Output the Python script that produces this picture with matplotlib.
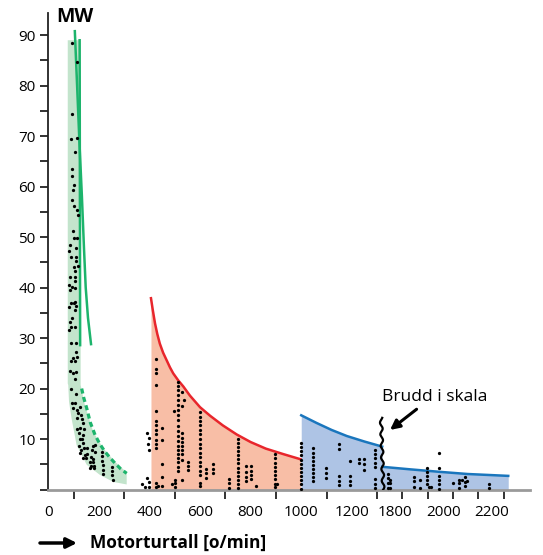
"""Motoreffekt mot turtall: tre motorgrupper med brudd i x-skala."""

import numpy as np
import matplotlib
matplotlib.use("Agg")
import matplotlib.pyplot as plt

plt.rcParams['font.family'] = ['Open Sans', 'DejaVu Sans']

# axis break: rpm values above BREAK_HI are shifted left on the axis
BREAK_LO = 1320
BREAK_HI = 1748


def axis_pos(rpm):
    rpm = np.asarray(rpm, dtype=float)
    return np.where(rpm <= BREAK_LO, rpm, 1370 + (rpm - 1800) * 0.96)


# --- green group (slow-speed engines) ---
green_band_rpm = [77, 77, 79, 82, 92, 112, 152, 204, 257, 310, 310, 264, 217, 178, 145, 128, 128]
green_band_mw = [89, 21, 20.7, 17.4, 14.1, 8.8, 4.9, 2.9, 1.5, 1.0, 3.4, 5.5, 8.2, 11.4, 16.7, 20.7, 89]
green_diag_rpm = [105, 114, 123, 133, 141, 148, 157, 169]
green_diag_mw = [90.8, 80, 69, 58, 48, 40, 34, 28.8]
green_vert_rpm = [124, 126]
green_vert_mw = [89, 28.6]
green_dash_rpm = [132, 140, 152, 166, 185, 204, 224, 244, 264, 286, 310]
green_dash_mw = [20, 18.2, 16.1, 13.3, 10.8, 9.0, 7.5, 6.3, 5.2, 4.1, 3.2]

green_dot_rpm = [92, 112, 95, 90, 112, 105, 95, 95, 103, 96, 95, 102, 115, 116, 96, 102, 115, 87,
                 110, 82, 91, 108, 108, 102, 116, 107, 85, 107, 107, 80, 92, 107, 85,
                 90, 102, 83, 106, 108, 106, 94, 86, 107, 88, 82, 88, 108, 109, 99, 112, 88,
                 107, 86, 96, 111, 106, 88,
                 110, 92, 106, 99, 112, 125, 119, 128, 112, 132, 138, 112, 125, 141, 123, 138,
                 125, 132, 138, 123, 128, 141, 152, 125, 145, 154, 136, 149, 175, 185, 172, 185,
                 168, 178, 165, 178, 168, 181, 165, 181, 211, 211, 211, 215, 215, 217, 250, 250,
                 250, 255]
green_dot_mw = [88.4, 84.6, 74.4, 69.5, 69.7, 66.8, 63.5, 62.1, 60.3, 59.3, 57.3, 56.1, 55.3, 54.4,
                51.2, 49.9, 49.9, 48.4, 47.9, 47.2, 46.0, 46.1, 45.2, 44.0, 44.3, 43.3, 42.1, 42.0,
                41.3, 40.6, 40.1, 40.0, 39.5,
                36.9, 37.0, 36.2, 37.2, 36.3, 35.5, 33.9, 33.1, 32.1, 32.1, 31.6, 29.1, 29.1, 27.3,
                26.1, 26.2, 25.5, 25.5, 23.5, 23.0, 23.3, 21.9, 20.0,
                19.0, 17.1, 17.1, 16.2, 15.7, 16.4, 15.1, 14.8, 14.1, 14.0, 13.1, 12.0, 12.2, 12.0,
                11.1, 10.8, 10.1, 10.0, 9.3, 8.7, 7.8, 8.2, 8.3, 7.2, 6.8, 7.0, 6.3, 6.3, 8.7, 8.9,
                7.8, 7.5, 6.5, 6.0, 5.5, 5.4, 4.7, 4.7, 4.3, 4.3, 7.5, 6.7, 5.6, 4.9, 3.9, 3.0,
                4.5, 3.7, 2.9, 1.9]

# --- red group (medium-speed engines) ---
red_rpm = [406, 413, 422, 431, 441, 454, 468, 481, 494, 514, 534, 560, 600, 640, 690,
           745, 800, 860, 930, 997]
red_mw = [37.9, 35.6, 32.9, 30.8, 28.9, 27.1, 25.6, 24.2, 23.0, 21.6, 20.4, 18.6, 16.3,
          14.6, 12.7, 10.9, 9.4, 8.1, 7.0, 6.0]

# --- blue group (high-speed engines), split by the axis break ---
blue_pre_rpm = [1000, 1060, 1120, 1180, 1250, 1320]
blue_pre_mw = [14.7, 13.2, 11.8, 10.6, 9.5, 8.5]
blue_post_rpm = [1748, 1862, 1985, 2100, 2200, 2267]
blue_post_mw = [4.5, 4.0, 3.5, 3.07, 2.85, 2.7]

# dots in columns (rpm, list of MW)
col_rpm = [389, 398, 395, 399, 372, 391, 382, 399, 398, 435, 501, 501, 488, 501, 527, 538, 498,
           426, 451, 513, 530, 551, 601, 623, 652, 713, 751, 780, 802, 822, 896, 905,
           1000, 1046, 1098, 1148, 1194, 1229, 1248, 1291,
           1770, 1782, 1878, 1903, 1931, 1940, 1950, 1981, 2038, 2065, 2077, 2089, 2096, 2188]
col_mw = [[11.1], [10.3], [9.1], [7.8], [1.1], [2.2], [0.4], [0.55], [1.5], [0.7],
          [1.9], [1.2], [1.1], [0.55], [1.9], [17.7], [15.6],
          [25.8, 23.8, 23.0, 20.8, 15.6, 13.6, 12.8, 11.8, 10.9, 9.9, 9.1, 8.3, 1.2, 0.55],
          [12.1, 9.9, 5.0, 2.4, 0.7],
          [21.3, 20.5, 19.7, 18.7, 17.7, 16.7, 15.7, 14.7, 13.8, 12.6, 11.6, 10.6, 9.6, 8.7,
           7.8, 7.0, 6.2, 5.4, 4.5, 3.7],
          [19.4, 16.5, 11.1, 10.3, 9.5, 8.7, 7.8, 7.0, 5.8],
          [5.5, 4.6, 3.8],
          [15.3, 14.4, 13.6, 12.7, 11.8, 10.9, 10.0, 9.1, 8.2, 7.3, 6.4, 5.5, 4.6, 3.7, 2.8,
           1.3, 0.65],
          [4.1, 3.2, 2.3],
          [5.0, 4.1, 3.2],
          [2.0, 1.2, 0.3],
          [10.1, 9.3, 8.5, 7.6, 6.8, 6.0, 5.2, 4.3, 3.5, 2.7, 1.8, 1.0, 0.3],
          [4.7, 3.4, 2.5, 1.6],
          [4.6, 3.7, 2.9, 2.0],
          [0.7],
          [7.0, 6.2, 5.3, 4.5, 3.7, 2.9, 2.0, 1.1, 0.4],
          [1.1],
          [9.3, 8.5, 7.6, 6.8, 5.9, 5.1, 4.3, 3.5, 2.6, 1.8, 1.0, 0.2],
          [8.2, 7.3, 6.5, 5.6, 4.9, 4.0, 3.2, 2.4, 1.7],
          [4.2, 3.3, 2.3],
          [9.0, 8.0, 2.7, 1.7, 0.8],
          [5.7, 2.7, 1.7, 0.8],
          [6.1, 5.2],
          [6.0, 5.1, 3.8],
          [7.8, 7.0, 6.2, 5.3, 4.4, 2.0, 1.1, 0.24],
          [3.0, 2.2, 1.2, 0.35],
          [1.9, 1.2, 0.35],
          [2.4, 1.7, 0.55],
          [1.9, 0.35],
          [4.3, 3.5, 2.7, 1.9, 1.1],
          [0.4],
          [0.4],
          [7.2, 4.2, 2.7, 1.9, 1.1, 0.2],
          [1.35],
          [1.9, 1.2, 0.35],
          [1.9],
          [2.5, 1.55, 0.7],
          [1.7],
          [1.1, 0.24]]

x_labels_rpm = [0, 200, 400, 600, 800, 1000, 1200, 1800, 2000, 2200]
y_labels = [10, 20, 30, 40, 50, 60, 70, 80, 90]

GREEN = '#1db46c'
GREEN_FILL = '#c3e4cc'
RED = '#e8262c'
RED_FILL = '#f8bea6'
BLUE = '#1a76bd'
BLUE_FILL = '#aec4e5'

fig = plt.figure(figsize=(5.43, 5.55), dpi=100)
ax = fig.add_axes([0.0889, 0.118, 0.887, 0.8586])

# filled regions
ax.fill(axis_pos(green_band_rpm), green_band_mw, color=GREEN_FILL, lw=0, zorder=1)
ax.fill_between(axis_pos(red_rpm), 0, red_mw, color=RED_FILL, lw=0, zorder=1)
blue_x = np.concatenate([axis_pos(blue_pre_rpm), axis_pos(blue_post_rpm)])
blue_y = np.concatenate([blue_pre_mw, blue_post_mw])
ax.fill_between(blue_x, 0, blue_y, color=BLUE_FILL, lw=0, zorder=1)

# boundary lines
ax.plot(axis_pos(green_diag_rpm), green_diag_mw, color=GREEN, lw=1.8, zorder=2)
ax.plot(axis_pos(green_vert_rpm), green_vert_mw, color=GREEN, lw=1.8, zorder=2)
ax.plot(axis_pos(green_dash_rpm), green_dash_mw, color=GREEN, lw=2.3,
        dashes=(1.6, 1.1), zorder=2)
ax.plot(axis_pos(red_rpm), red_mw, color=RED, lw=1.8, zorder=2)
ax.plot(axis_pos(blue_pre_rpm), blue_pre_mw, color=BLUE, lw=1.8, zorder=2)
ax.plot(axis_pos(blue_post_rpm), blue_post_mw, color=BLUE, lw=1.8, zorder=2)

# dots
dot_x = list(green_dot_rpm)
dot_y = list(green_dot_mw)
for r, vals in zip(col_rpm, col_mw):
    dot_x += [r] * len(vals)
    dot_y += vals
ax.scatter(axis_pos(dot_x), dot_y, s=5.5, color='black', lw=0, zorder=3)

# hand-drawn style wavy line marking the scale break
wy = np.linspace(0, 14.2, 150)
wx = BREAK_LO + 5 * np.sin(wy / 2.3 * 2 * np.pi) + (7 - wy) * 0.6
ax.plot(wx, wy, color='black', lw=1.6, zorder=4)
ax.annotate('', xy=(1351, 11.8), xytext=(1456, 15.9),
            arrowprops=dict(arrowstyle='-|>', lw=2.2, color='black', mutation_scale=14,
                            shrinkA=0, shrinkB=0))
ax.text(1528, 18.3, 'Brudd i skala', ha='center', va='center', fontsize=12.5)

# axes styling
ax.set_xlim(0, 1904)
ax.set_ylim(0, 94.4)
for side in ['top', 'right']:
    ax.spines[side].set_visible(False)
ax.spines['left'].set_color('#222222')
ax.spines['left'].set_linewidth(1.3)
ax.spines['bottom'].set_color('#9a9a9a')
ax.spines['bottom'].set_linewidth(2)

ax.set_yticks(np.arange(0, 91, 5))
ax.set_yticklabels([str(v) if v in y_labels else '' for v in range(0, 91, 5)])
ax.tick_params(axis='y', length=6, width=1.3, color='#222222', pad=3, labelsize=11)

ax.set_xticks(axis_pos(x_labels_rpm))
ax.set_xticklabels([str(v) for v in x_labels_rpm])
ax.set_xticks(np.arange(0, 1801, 100), minor=True)
ax.tick_params(axis='x', which='major', length=0, pad=11, labelsize=11)
ax.tick_params(axis='x', which='minor', length=6.5, width=1.3, color='#222222')

fig.text(56 / 543, 1 - 17 / 555, 'MW', ha='left', va='center', fontsize=14,
         fontweight='bold')
fig.text(90 / 543, 1 - 543 / 555, 'Motorturtall [o/min]', ha='left', va='center',
         fontsize=12.5, fontweight='bold')
ax.annotate('', xy=(77 / 543, 1 - 543 / 555), xytext=(40 / 543, 1 - 543 / 555),
            xycoords='figure fraction', textcoords='figure fraction',
            arrowprops=dict(arrowstyle='-|>', lw=2.5, color='black', mutation_scale=15,
                            shrinkA=0, shrinkB=0))

fig.savefig('out.png', dpi=100)
